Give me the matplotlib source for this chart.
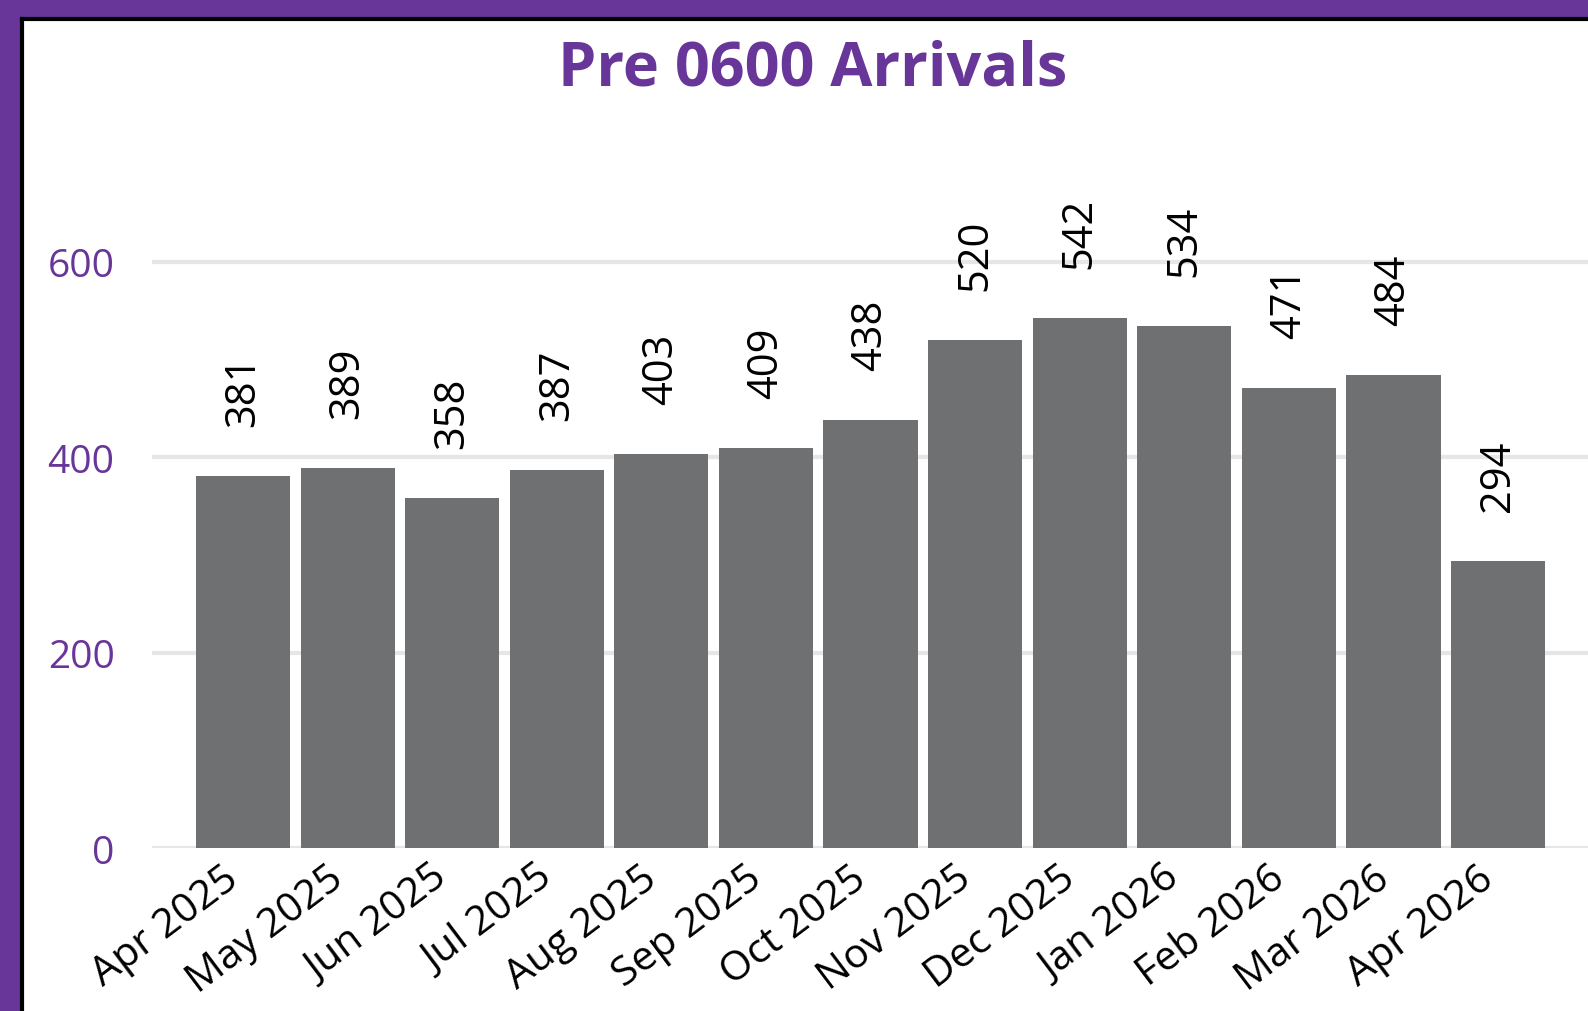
import matplotlib.pyplot as plt
import matplotlib.transforms as mtransforms
from matplotlib.patches import Rectangle
from matplotlib.lines import Line2D

# -------------------------------------------------------
# Data
# -------------------------------------------------------
months = [
    "Apr 2025", "May 2025", "Jun 2025", "Jul 2025", "Aug 2025",
    "Sep 2025", "Oct 2025", "Nov 2025", "Dec 2025", "Jan 2026",
    "Feb 2026", "Mar 2026", "Apr 2026",
]
arrivals = [381, 389, 358, 387, 403, 409, 438, 520, 542, 534, 471, 484, 294]
y_ticks = [0, 200, 400, 600]

PURPLE = "#683599"
BAR_GREY = "#6f7072"
GRID_GREY = "#e6e6e6"

plt.rcParams["font.family"] = ["Open Sans", "DejaVu Sans"]

W, H = 1588, 1012
fig = plt.figure(figsize=(W / 100, H / 100), dpi=100)
fig.patch.set_facecolor("white")

# frame: purple band top/left and a thin black inner line
fig.patches.append(Rectangle((0, 1 - 18 / H), 1, 18 / H, transform=fig.transFigure,
                             facecolor=PURPLE, edgecolor="none", zorder=0))
fig.patches.append(Rectangle((0, 0), 20 / W, 1, transform=fig.transFigure,
                             facecolor=PURPLE, edgecolor="none", zorder=0))
fig.lines.append(Line2D([21.5 / W, 1], [1 - 20 / H, 1 - 20 / H], transform=fig.transFigure,
                        color="black", linewidth=3))
fig.lines.append(Line2D([21.5 / W, 21.5 / W], [0, 1 - 20 / H], transform=fig.transFigure,
                        color="black", linewidth=3))

# axes placement (pixels): x from 152 to 1588, y=0 at 849, 700 at ~165
ax_left, ax_right = 152, 1588
ax_bottom, ax_top = 849, 849 - 700 * 0.977
ax = fig.add_axes([ax_left / W, 1 - ax_bottom / H, (ax_right - ax_left) / W,
                   (ax_bottom - ax_top) / H])
ax.set_facecolor("none")

x = list(range(len(months)))
ax.bar(x, arrivals, width=0.9, color=BAR_GREY, zorder=3)

for xi, v in zip(x, arrivals):
    ax.annotate(f"{v}", (xi, v), xytext=(0, 36), textcoords="offset points",
                rotation=90, ha="center", va="bottom", fontsize=30, color="black")

ax.set_xlim(-0.87, 12.86)
ax.set_ylim(0, 700)
ax.set_yticks(y_ticks)
ax.set_yticklabels([str(t) for t in y_ticks], color=PURPLE, fontsize=28)
ax.yaxis.grid(True, color=GRID_GREY, linewidth=3, zorder=0)
ax.set_axisbelow(True)
ax.tick_params(axis="y", length=0, pad=27)

ax.set_xticks(x)
ax.set_xticklabels(months, rotation=37, ha="right", rotation_mode="anchor",
                   fontsize=29.5, color="black")
ax.tick_params(axis="x", length=0, pad=7)
shift = mtransforms.ScaledTranslation(-15 / 72, 0, fig.dpi_scale_trans)
for lbl in ax.get_xticklabels():
    lbl.set_transform(lbl.get_transform() + shift)

for s in ax.spines.values():
    s.set_visible(False)

fig.text(813 / W, 1 - 70 / H, "Pre 0600 Arrivals", ha="center", va="center",
         fontsize=44, fontweight="bold", color=PURPLE)

fig.savefig("out.png", dpi=100)
